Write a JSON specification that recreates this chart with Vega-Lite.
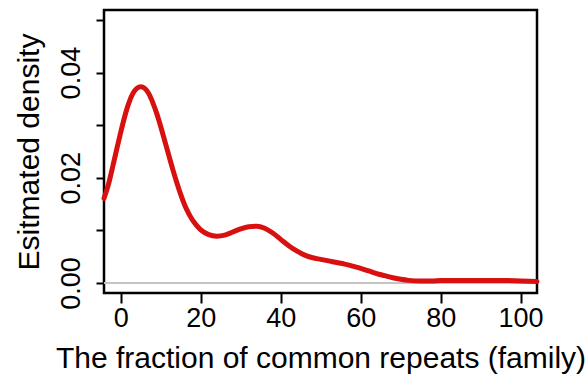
{
  "$schema": "https://vega.github.io/schema/vega-lite/v6.json",
  "width": 433,
  "height": 283,
  "autosize": "none",
  "padding": {"left": 104, "top": 10, "right": 51, "bottom": 85},
  "background": "white",
  "config": {
    "font": "Liberation Sans",
    "view": {"stroke": "black", "strokeWidth": 2.5},
    "axis": {
      "domain": false,
      "grid": false,
      "tickColor": "black",
      "tickWidth": 2,
      "labelColor": "black",
      "labelFont": "Liberation Sans",
      "labelFontSize": 27,
      "labelFontWeight": "normal",
      "titleColor": "black",
      "titleFont": "Liberation Sans",
      "titleFontSize": 30,
      "titleFontWeight": "normal"
    }
  },
  "data": {
    "values": [
      {"x": -4.2, "density": 0.0161},
      {"x": -3, "density": 0.0190},
      {"x": -2, "density": 0.0222},
      {"x": -1, "density": 0.0255},
      {"x": 0, "density": 0.0287},
      {"x": 1, "density": 0.0317},
      {"x": 2, "density": 0.0342},
      {"x": 3, "density": 0.0360},
      {"x": 4, "density": 0.0370},
      {"x": 5, "density": 0.0373},
      {"x": 6, "density": 0.0370},
      {"x": 7, "density": 0.0360},
      {"x": 8, "density": 0.0343},
      {"x": 9, "density": 0.0322},
      {"x": 10, "density": 0.0297},
      {"x": 11, "density": 0.0270},
      {"x": 12, "density": 0.0243},
      {"x": 13, "density": 0.0216},
      {"x": 14, "density": 0.0191},
      {"x": 15, "density": 0.0168},
      {"x": 16, "density": 0.0148},
      {"x": 17, "density": 0.0132},
      {"x": 18, "density": 0.0119},
      {"x": 19, "density": 0.0109},
      {"x": 20, "density": 0.0101},
      {"x": 22, "density": 0.0092},
      {"x": 24, "density": 0.0089},
      {"x": 26, "density": 0.0091},
      {"x": 28, "density": 0.0097},
      {"x": 30, "density": 0.0103},
      {"x": 32, "density": 0.0107},
      {"x": 34, "density": 0.0108},
      {"x": 36, "density": 0.0104},
      {"x": 38, "density": 0.0095},
      {"x": 40, "density": 0.0083},
      {"x": 42, "density": 0.0071},
      {"x": 44, "density": 0.0061},
      {"x": 46, "density": 0.0053},
      {"x": 48, "density": 0.0048},
      {"x": 50, "density": 0.0045},
      {"x": 52, "density": 0.0042},
      {"x": 54, "density": 0.0039},
      {"x": 56, "density": 0.0036},
      {"x": 58, "density": 0.0032},
      {"x": 60, "density": 0.0028},
      {"x": 62, "density": 0.0023},
      {"x": 64, "density": 0.0018},
      {"x": 66, "density": 0.0014},
      {"x": 68, "density": 0.0010},
      {"x": 70, "density": 0.0007},
      {"x": 72, "density": 0.0005},
      {"x": 75, "density": 0.0004},
      {"x": 78, "density": 0.0004},
      {"x": 80, "density": 0.0005},
      {"x": 85, "density": 0.0005},
      {"x": 90, "density": 0.0005},
      {"x": 95, "density": 0.0005},
      {"x": 100, "density": 0.0004},
      {"x": 104.1, "density": 0.0003}
    ]
  },
  "layer": [
    {
      "mark": {"type": "rule", "color": "#c4c4c4", "strokeWidth": 1},
      "encoding": {
        "y": {
          "datum": 0,
          "type": "quantitative",
          "title": "Esitmated density"
        }
      }
    },
    {
      "mark": {"type": "line", "color": "#d81010", "strokeWidth": 5, "interpolate": "monotone", "strokeCap": "round"},
      "encoding": {
        "x": {
          "field": "x",
          "type": "quantitative",
          "scale": {"domain": [-4.2, 104.1], "nice": false, "zero": false},
          "axis": {
            "title": "The fraction of common repeats (family)",
            "values": [0, 20, 40, 60, 80, 100],
            "tickSize": 10,
            "labelPadding": 2,
            "titlePadding": 12
          }
        },
        "y": {
          "field": "density",
          "type": "quantitative",
          "title": "Esitmated density",
          "scale": {"domain": [-0.0019, 0.0519], "nice": false, "zero": false},
          "axis": {
            "values": [0, 0.01, 0.02, 0.03, 0.04, 0.05],
            "labelExpr": "round(datum.value * 100) % 2 == 0 && datum.value < 0.045 ? format(datum.value, '.2f') : ''",
            "labelAngle": -90,
            "tickSize": 8,
            "labelPadding": 11,
            "titlePadding": 13
          }
        }
      }
    }
  ]
}
